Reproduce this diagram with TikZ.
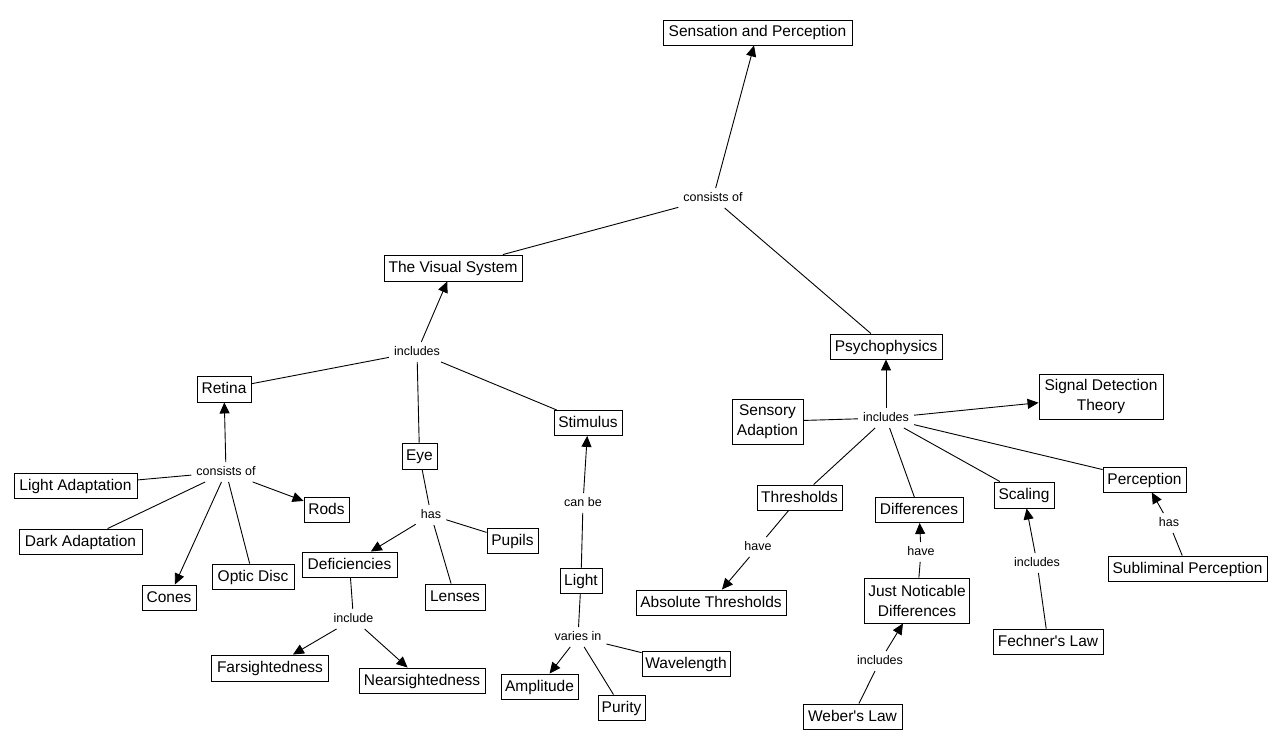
\documentclass[tikz,border=0pt]{standalone}
\usepackage{fontspec}
\newfontfamily\arialish{Liberation Sans}
\usetikzlibrary{arrows.meta}
\begin{document}
\begin{tikzpicture}[x=1pt,y=-1pt,
  box/.style={draw=black,line width=0.9pt,inner xsep=2pt,inner ysep=0pt,
    font=\arialish\fontsize{15.5}{20}\selectfont,text height=11.5pt,text depth=2.5pt},
  box2/.style={draw=black,line width=0.9pt,inner xsep=2pt,inner ysep=0pt,align=center,
    font=\arialish\fontsize{15.5}{20}\selectfont},
  lbl/.style={inner xsep=5pt,inner ysep=4pt,font=\arialish\fontsize{12.5}{14}\selectfont,
    text height=9pt,text depth=2.5pt},
  ln/.style={line width=0.9pt},
  ar/.style={line width=0.9pt,-{Triangle[length=11pt,width=10pt]}}
]
\useasboundingbox (0,0) rectangle (1277,749);
\fill[white] (0,0) rectangle (1277,749);
% concept boxes
\node[box,minimum width=189pt,minimum height=25pt] (sp) at (757.5,32.5) {Sensation and Perception};
\node[box,minimum width=138pt,minimum height=26pt] (vs) at (453,268) {The Visual System};
\node[box,minimum width=68pt,minimum height=25pt] (stim) at (588,423) {Stimulus};
\node[box,minimum width=54pt,minimum height=26pt] (ret) at (224,389) {Retina};
\node[box,minimum width=123pt,minimum height=25pt] (la) at (75.5,485.5) {Light Adaptation};
\node[box,minimum width=123pt,minimum height=25pt] (da) at (80.5,541.5) {Dark Adaptation};
\node[box,minimum width=45pt,minimum height=25pt] (rods) at (326.5,509.5) {Rods};
\node[box,minimum width=54pt,minimum height=25pt] (cones) at (169,597.5) {Cones};
\node[box,minimum width=82pt,minimum height=25pt] (od) at (253,576.5) {Optic Disc};
\node[box,minimum width=35pt,minimum height=26pt] (eye) at (419.5,456) {Eye};
\node[box,minimum width=51pt,minimum height=25pt] (pup) at (512.5,540.5) {Pupils};
\node[box,minimum width=95pt,minimum height=25pt] (def) at (349.5,564.5) {Deficiencies};
\node[box,minimum width=60pt,minimum height=26pt] (len) at (455,597) {Lenses};
\node[box,minimum width=117pt,minimum height=26pt] (far) at (270,668) {Farsightedness};
\node[box,minimum width=126pt,minimum height=25pt] (near) at (422,680.5) {Nearsightedness};
\node[box,minimum width=42pt,minimum height=25pt] (light) at (581,580.5) {Light};
\node[box,minimum width=77pt,minimum height=25pt] (amp) at (539.5,686.5) {Amplitude};
\node[box,minimum width=47pt,minimum height=25pt] (pur) at (621.5,707.5) {Purity};
\node[box,minimum width=88pt,minimum height=25pt] (wave) at (686,663.5) {Wavelength};
\node[box,minimum width=112pt,minimum height=25pt] (psy) at (886,346.5) {Psychophysics};
\node[box2,minimum width=71pt,minimum height=45pt] (sa) at (767.5,421.5) {Sensory\\Adaption};
\node[box2,minimum width=124pt,minimum height=45pt] (sdt) at (1101,396.5) {Signal Detection\\Theory};
\node[box,minimum width=85pt,minimum height=25pt] (thr) at (799.5,497.5) {Thresholds};
\node[box,minimum width=88pt,minimum height=25pt] (diff) at (919,510) {Differences};
\node[box,minimum width=60pt,minimum height=26pt] (scal) at (1024,495) {Scaling};
\node[box,minimum width=83pt,minimum height=25pt] (perc) at (1144.5,479.5) {Perception};
\node[box,minimum width=150pt,minimum height=25pt] (abs) at (711,602.5) {Absolute Thresholds};
\node[box2,minimum width=105pt,minimum height=45pt] (jnd) at (917,600.5) {Just Noticable\\Differences};
\node[box,minimum width=99pt,minimum height=25pt] (web) at (852.5,716.5) {Weber's Law};
\node[box,minimum width=110pt,minimum height=25pt] (fech) at (1048,641.5) {Fechner's Law};
\node[box,minimum width=159pt,minimum height=25pt] (sub) at (1187.5,568.5) {Subliminal Perception};
% linking phrases
\node[lbl] (l1) at (713,198) {consists of};
\node[lbl] (l2) at (417,352) {includes};
\node[lbl] (l3) at (226,472) {consists of};
\node[lbl] (l4) at (431,515) {has};
\node[lbl] (l5) at (353.5,619) {include};
\node[lbl] (l6) at (583,503) {can be};
\node[lbl] (l7) at (578,637) {varies in};
\node[lbl] (l8) at (886,418) {includes};
\node[lbl] (l9) at (758,547) {have};
\node[lbl] (l10) at (921,552) {have};
\node[lbl] (l11) at (880,661) {includes};
\node[lbl] (l12) at (1037,563) {includes};
\node[lbl] (l13) at (1169,523) {has};
% connectors
\draw[ar] (l1) -- (sp);
\draw[ln] (vs) -- (l1);
\draw[ln] (psy) -- (l1);
\draw[ar] (l2) -- (vs);
\draw[ln] (ret) -- (l2);
\draw[ln] (eye) -- (l2);
\draw[ln] (stim) -- (l2);
\draw[ar] (l3) -- (ret);
\draw[ln] (la) -- (l3);
\draw[ln] (da) -- (l3);
\draw[ln] (od) -- (l3);
\draw[ar] (l3) -- (cones);
\draw[ar] (l3) -- (rods);
\draw[ln] (eye) -- (l4);
\draw[ar] (l4) -- (def);
\draw[ln] (l4) -- (pup);
\draw[ln] (l4) -- (len);
\draw[ln] (def) -- (l5);
\draw[ar] (l5) -- (far);
\draw[ar] (l5) -- (near);
\draw[ar] (l6) -- (stim);
\draw[ln] (light) -- (l6);
\draw[ln] (light) -- (l7);
\draw[ar] (l7) -- (amp);
\draw[ln] (l7) -- (pur);
\draw[ln] (l7) -- (wave);
\draw[ar] (l8) -- (psy);
\draw[ar] (l8) -- (sdt);
\draw[ln] (sa) -- (l8);
\draw[ln] (l8) -- (thr);
\draw[ln] (l8) -- (diff);
\draw[ln] (l8) -- (scal);
\draw[ln] (l8) -- (perc);
\draw[ln] (thr) -- (l9);
\draw[ar] (l9) -- (abs);
\draw[ln] (jnd) -- (l10);
\draw[ar] (l10) -- (diff);
\draw[ln] (web) -- (l11);
\draw[ar] (l11) -- (jnd);
\draw[ln] (fech) -- (l12);
\draw[ar] (l12) -- (scal);
\draw[ln] (sub) -- (l13);
\draw[ar] (l13) -- (perc);
\end{tikzpicture}
\end{document}
